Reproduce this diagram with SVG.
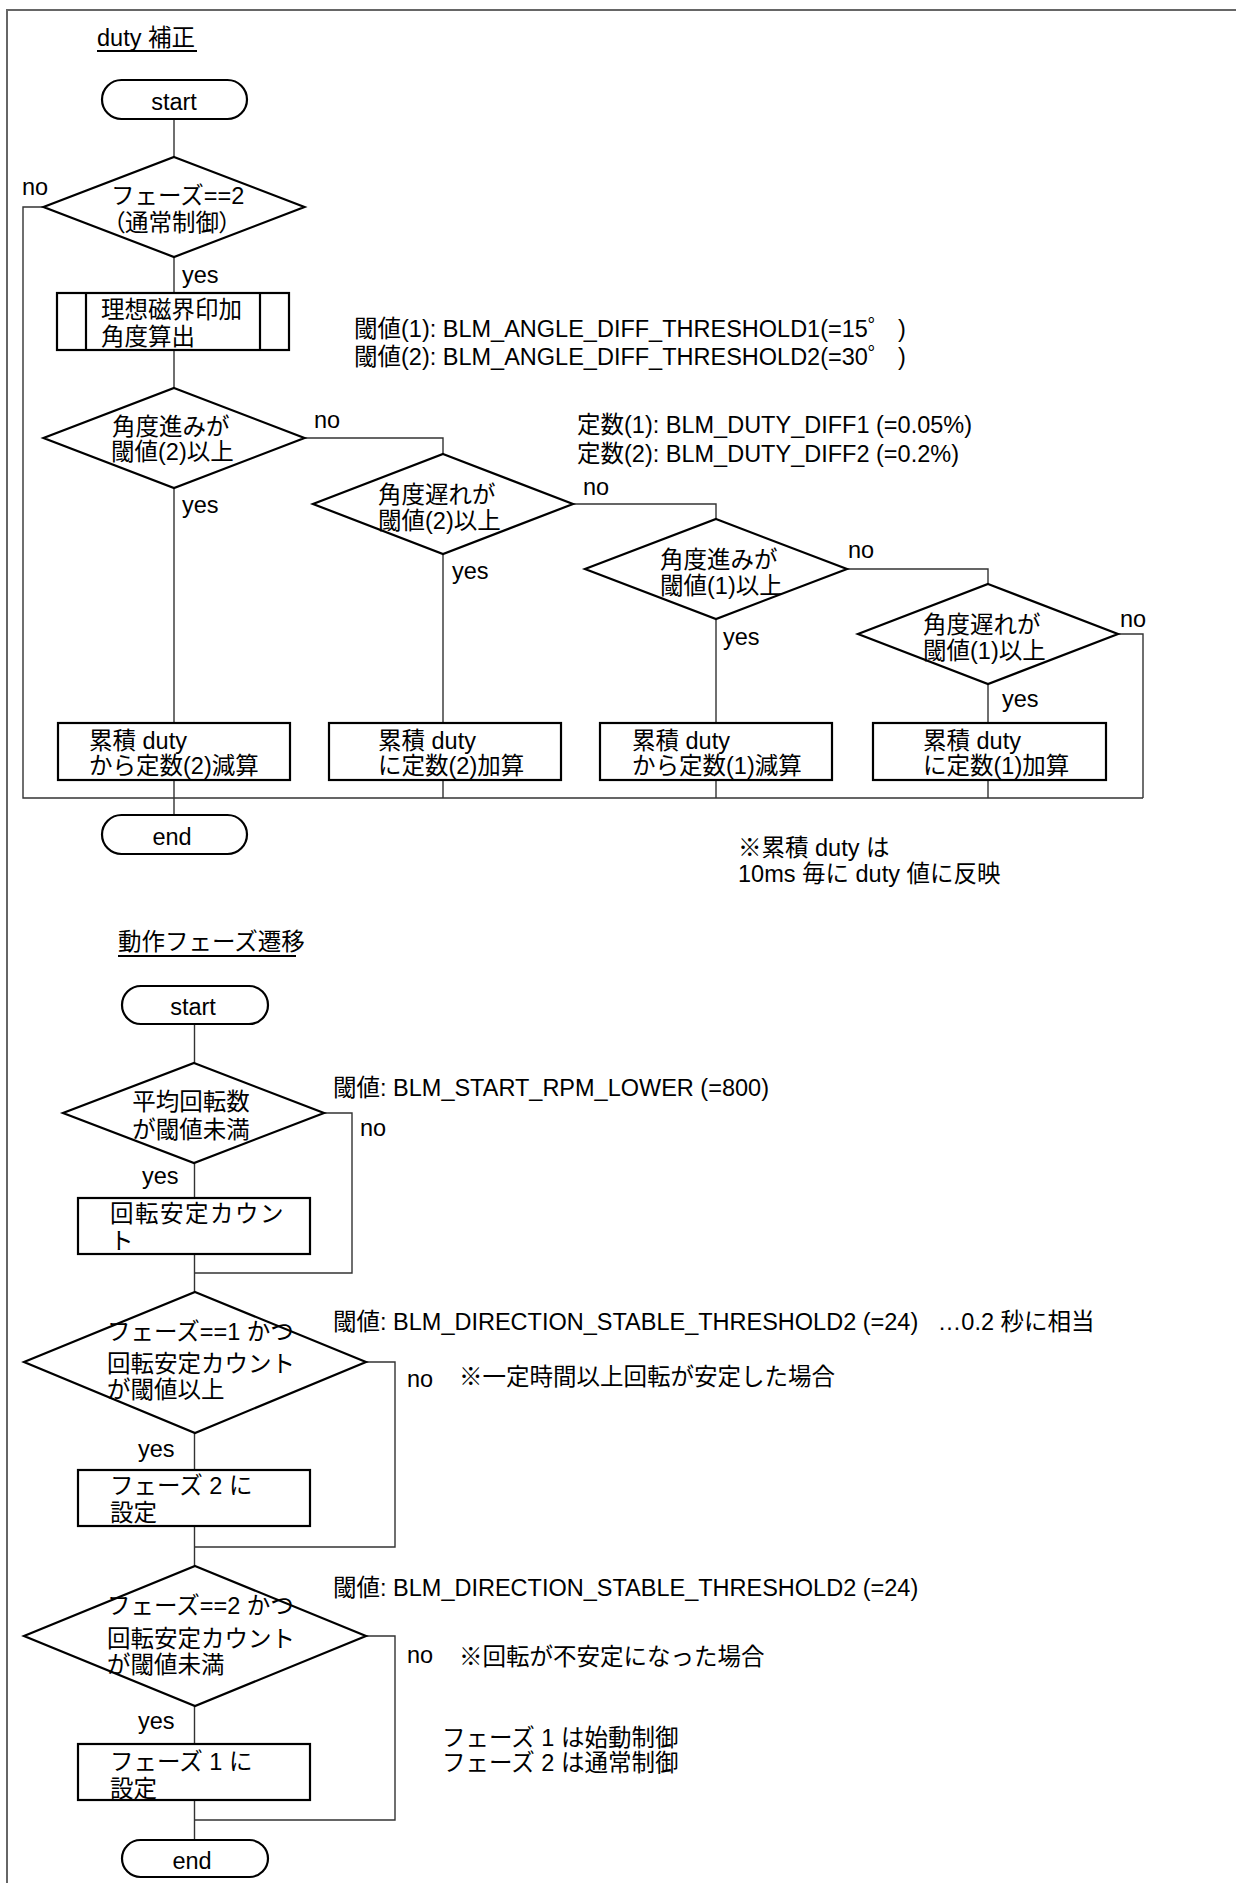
<svg xmlns="http://www.w3.org/2000/svg" width="1236" height="1883" viewBox="0 0 1236 1883">
<style>
.t{font-family:"Liberation Sans","Noto Sans CJK JP",sans-serif;font-size:23.5px;fill:#000;white-space:pre}
.m{text-anchor:middle}
.s{fill:#fff;stroke:#000;stroke-width:2.2}
.c{fill:none;stroke:#333;stroke-width:1.4}
.u{stroke:#000;stroke-width:1.8}
</style>
<rect x="7" y="10" width="1240" height="1890" fill="none" stroke="#666" stroke-width="2"/>
<g id="connectors">
<path class="c" d="M174,119V157M174,257V293M174,350V388M174,488V723M304.5,438H443V454M443,554V723M573,504H716V519M716,619V723M847,569H988V584M988,684V723M1118,634H1143V798M43.5,207H23V798H1143M174,780V815M443,780V798M716,780V798M988,780V798"/>
<path class="c" d="M194.5,1024V1063M194.5,1163V1198M324,1113H352V1273H194.5M194.5,1254V1292M366,1362H395V1547H194.5M194.5,1433V1470M194.5,1526V1566M366,1636H395V1820H194.5M194.5,1706V1744M194.5,1800V1840"/>
</g>
<g id="labels">
<text class="t" x="22" y="195">no</text>
<text class="t" x="182" y="283">yes</text>
<text class="t" x="314" y="428">no</text>
<text class="t" x="182" y="513">yes</text>
<text class="t" x="583" y="495">no</text>
<text class="t" x="452" y="579">yes</text>
<text class="t" x="848" y="558">no</text>
<text class="t" x="723" y="645">yes</text>
<text class="t" x="1120" y="627">no</text>
<text class="t" x="1002" y="707">yes</text>
<text class="t" x="360" y="1136">no</text>
<text class="t" x="142" y="1184">yes</text>
<text class="t" x="407" y="1387">no</text>
<text class="t" x="138" y="1457">yes</text>
<text class="t" x="407" y="1663">no</text>
<text class="t" x="138" y="1729">yes</text>
</g>
<g id="notes">
<text class="t" x="97" y="46">duty 補正</text>
<line class="u" x1="97" y1="51" x2="197" y2="51"/>
<text class="t" x="354" y="337">閾値(1): BLM_ANGLE_DIFF_THRESHOLD1(=15゜ )</text>
<text class="t" x="354" y="365">閾値(2): BLM_ANGLE_DIFF_THRESHOLD2(=30゜ )</text>
<text class="t" x="577" y="433">定数(1): BLM_DUTY_DIFF1 (=0.05%)</text>
<text class="t" x="577" y="462">定数(2): BLM_DUTY_DIFF2 (=0.2%)</text>
<text class="t" x="738" y="856">※累積 duty は</text>
<text class="t" x="738" y="882">10ms 毎に duty 値に反映</text>
<text class="t" x="118" y="950">動作フェーズ遷移</text>
<line class="u" x1="118" y1="956" x2="296" y2="956"/>
<text class="t" x="333" y="1096">閾値: BLM_START_RPM_LOWER (=800)</text>
<text class="t" x="333" y="1330">閾値: BLM_DIRECTION_STABLE_THRESHOLD2 (=24)   …0.2 秒に相当</text>
<text class="t" x="459" y="1385">※一定時間以上回転が安定した場合</text>
<text class="t" x="333" y="1596">閾値: BLM_DIRECTION_STABLE_THRESHOLD2 (=24)</text>
<text class="t" x="459" y="1665">※回転が不安定になった場合</text>
<text class="t" x="442" y="1746">フェーズ 1 は始動制御</text>
<text class="t" x="442" y="1771">フェーズ 2 は通常制御</text>
</g>
<g id="start1"><rect class="s" x="102" y="80" width="145" height="39" rx="19.5"/><text class="t m" x="174" y="110">start</text></g>
<g id="dec1"><polygon class="s" points="174,157 304.5,207 174,257 43.5,207"/><text class="t" x="111" y="204">フェーズ==2</text><text class="t m" x="172" y="231" style="font-feature-settings:'palt'">（通常制御）</text></g>
<g id="proc1"><rect class="s" x="57" y="293" width="232" height="57"/><line class="s" x1="86" y1="293" x2="86" y2="350"/><line class="s" x1="260" y1="293" x2="260" y2="350"/><text class="t" x="101" y="318">理想磁界印加</text><text class="t" x="101" y="345">角度算出</text></g>
<g id="dec2"><polygon class="s" points="174,388 304.5,438 174,488 43.5,438"/><text class="t" x="112" y="435">角度進みが</text><text class="t" x="111" y="460">閾値(2)以上</text></g>
<g id="dec3"><polygon class="s" points="443,454 573,504 443,554 313,504"/><text class="t" x="378" y="503">角度遅れが</text><text class="t" x="378" y="529">閾値(2)以上</text></g>
<g id="dec4"><polygon class="s" points="716,519 847,569 716,619 585,569"/><text class="t" x="660" y="568">角度進みが</text><text class="t" x="660" y="594">閾値(1)以上</text></g>
<g id="dec5"><polygon class="s" points="988,584 1118,634 988,684 858,634"/><text class="t" x="923" y="633">角度遅れが</text><text class="t" x="923" y="659">閾値(1)以上</text></g>
<g id="box1"><rect class="s" x="58" y="723" width="232" height="57"/><text class="t" x="89" y="749">累積 duty</text><text class="t" x="89" y="774">から定数(2)減算</text></g>
<g id="box2"><rect class="s" x="329" y="723" width="232" height="57"/><text class="t" x="378" y="749">累積 duty</text><text class="t" x="378" y="774">に定数(2)加算</text></g>
<g id="box3"><rect class="s" x="600" y="723" width="232" height="57"/><text class="t" x="632" y="749">累積 duty</text><text class="t" x="632" y="774">から定数(1)減算</text></g>
<g id="box4"><rect class="s" x="873" y="723" width="233" height="57"/><text class="t" x="923" y="749">累積 duty</text><text class="t" x="923" y="774">に定数(1)加算</text></g>
<g id="end1"><rect class="s" x="102" y="815" width="145" height="39" rx="19.5"/><text class="t m" x="172" y="845">end</text></g>
<g id="start2"><rect class="s" x="122" y="986" width="146" height="38" rx="19"/><text class="t m" x="193" y="1015">start</text></g>
<g id="decA"><polygon class="s" points="194,1063 324,1113 194,1163 63,1113"/><text class="t m" x="191" y="1110">平均回転数</text><text class="t m" x="191" y="1138">が閾値未満</text></g>
<g id="boxA"><rect class="s" x="78" y="1198" width="232" height="56"/><text class="t" x="110" y="1222" letter-spacing="1.5">回転安定カウン</text><text class="t" x="110" y="1249">ト</text></g>
<g id="decB"><polygon class="s" points="195,1292 366,1362 195,1433 24,1362"/><text class="t" x="107" y="1340">フェーズ==1 かつ</text><text class="t" x="107" y="1372">回転安定カウント</text><text class="t" x="107" y="1398">が閾値以上</text></g>
<g id="boxB"><rect class="s" x="78" y="1470" width="232" height="56"/><text class="t" x="110" y="1494">フェーズ 2 に</text><text class="t" x="110" y="1521">設定</text></g>
<g id="decC"><polygon class="s" points="195,1566 366,1636 195,1706 24,1636"/><text class="t" x="107" y="1614">フェーズ==2 かつ</text><text class="t" x="107" y="1647">回転安定カウント</text><text class="t" x="107" y="1673">が閾値未満</text></g>
<g id="boxC"><rect class="s" x="78" y="1744" width="232" height="56"/><text class="t" x="110" y="1770">フェーズ 1 に</text><text class="t" x="110" y="1797">設定</text></g>
<g id="end2"><rect class="s" x="122" y="1840" width="146" height="37" rx="18.5"/><text class="t m" x="192" y="1869">end</text></g>
</svg>
